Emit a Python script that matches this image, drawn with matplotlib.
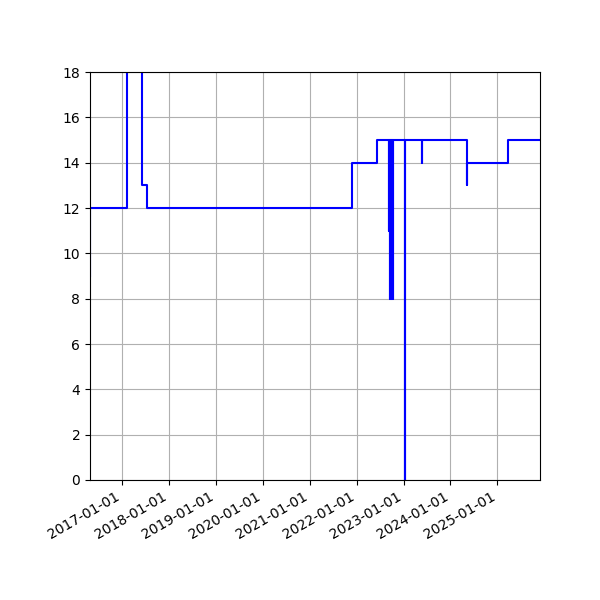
import matplotlib
matplotlib.use('Agg')
import matplotlib.pyplot as plt
import matplotlib.dates as mdates
import numpy as np

# change dates and the value that holds from that date on
dates = ['2016-04-25', '2016-04-28', '2017-02-04', '2017-06-03', '2017-06-06',
         '2017-07-15', '2021-11-27', '2022-06-05',
         '2022-09-10', '2022-09-12',
         '2022-09-17', '2022-09-19', '2022-09-21', '2022-09-23', '2022-09-25',
         '2022-09-27', '2022-09-29', '2022-10-01', '2022-10-03', '2022-10-05',
         '2022-10-07', '2022-10-09', '2022-10-10',
         '2023-01-12', '2023-01-13', '2023-05-26', '2023-05-27',
         '2024-05-06', '2024-05-07', '2025-03-26', '2025-11-28']
values = [9, 12, 24, 15, 13,
          12, 14, 15,
          11, 15,
          8, 15, 8, 15, 8,
          15, 8, 15, 8, 15,
          8, 15, 15,
          0, 15, 14, 15,
          13, 14, 15, 15]

x = np.array(dates, dtype='datetime64[D]').astype('O')
y = np.array(values)

fig = plt.figure(figsize=(6, 6), dpi=100)
ax = fig.add_subplot(111)
ax.plot(x, y, color='blue', drawstyle='steps-post', linewidth=1.5)
ax.set_ylim(0, 18)
ax.set_xlim(x[0], x[-1])
ax.xaxis.set_major_locator(mdates.YearLocator())
ax.xaxis.set_major_formatter(mdates.DateFormatter('%Y-%m-%d'))
ax.grid()
fig.autofmt_xdate()
fig.subplots_adjust(left=0.15, right=0.9, top=0.88)
fig.savefig('out.png', dpi=100)
